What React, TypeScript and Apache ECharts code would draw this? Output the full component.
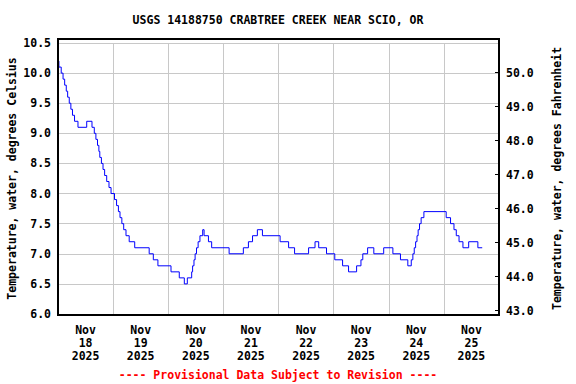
import React, { useEffect, useRef } from "react";
import * as echarts from "echarts";

const dayLabels = ["Nov\n18\n2025", "Nov\n19\n2025", "Nov\n20\n2025", "Nov\n21\n2025", "Nov\n22\n2025", "Nov\n23\n2025", "Nov\n24\n2025", "Nov\n25\n2025"];

// hours since Nov 18 2025 00:00
const hours = [
  0.0, 0.4, 1.4, 2.2, 2.9, 3.6, 4.2, 4.9, 5.6, 6.3, 7.2, 8.7, 12.5, 14.8, 15.8, 16.5, 17.2, 17.8, 18.2, 18.9,
  19.6, 20.3, 21.2, 22.2, 23.1, 24.6, 25.5, 26.3, 27.0, 27.8, 28.6, 29.6, 31.0, 33.4, 39.7, 41.5, 43.5, 49.2,
  52.8, 55.0, 56.3, 58.2, 58.6, 59.2, 59.7, 60.3, 61.0, 61.8, 63.0, 63.6, 65.5, 66.9, 74.5, 80.7, 82.9, 84.7,
  86.8, 89.0, 96.7, 100.4, 103.0, 109.1, 111.9, 113.5, 116.9, 120.5, 123.9, 126.5, 130.0, 131.9, 132.7, 134.8,
  137.5, 141.8, 145.8, 149.1, 152.3, 153.8, 154.5, 155.1, 155.7, 156.3, 156.8, 157.4, 158.1, 159.3, 169.0,
  170.9, 172.4, 173.4, 174.6, 176.3, 178.8, 182.8, 184.7,
];
const tempC = [
  10.2, 10.1, 10.0, 9.9, 9.8, 9.7, 9.6, 9.5, 9.4, 9.3, 9.2, 9.1, 9.2, 9.1, 9.0, 8.9, 8.8, 8.7, 8.6, 8.5,
  8.4, 8.3, 8.2, 8.1, 8.0, 7.9, 7.8, 7.7, 7.6, 7.5, 7.4, 7.3, 7.2, 7.1, 7.0, 6.9, 6.8, 6.7,
  6.6, 6.5, 6.6, 6.7, 6.8, 6.9, 7.0, 7.1, 7.2, 7.3, 7.4, 7.3, 7.2, 7.1, 7.0, 7.1, 7.2, 7.3,
  7.4, 7.3, 7.2, 7.1, 7.0, 7.1, 7.2, 7.1, 7.0, 6.9, 6.8, 6.7, 6.8, 6.9, 7.0, 7.1,
  7.0, 7.1, 7.0, 6.9, 6.8, 6.9, 7.0, 7.1, 7.2, 7.3, 7.4, 7.5, 7.6, 7.7, 7.6,
  7.5, 7.4, 7.3, 7.2, 7.1, 7.2, 7.1, 7.1,
];
const fahrenheitTicks = [43, 44, 45, 46, 47, 48, 49, 50];

const FONT = "'DejaVu Sans Mono', monospace";

export default function App() {
  const ref = useRef<HTMLDivElement>(null);
  useEffect(() => {
    if (!ref.current) return;
    const chart = echarts.init(ref.current, undefined, { renderer: "svg" });
    const txt = { fontFamily: FONT, fontWeight: "bold" as const, fontSize: 11.5, color: "#000" };
    chart.setOption({
      animation: false,
      backgroundColor: "#fff",
      grid: { left: 58, right: 77, top: 43, bottom: 70, containLabel: false, outerBoundsMode: "none" },
      xAxis: [
        { type: "value", min: 0, max: 192, show: false },
        {
          type: "category",
          data: dayLabels,
          boundaryGap: true,
          position: "bottom",
          axisLine: { show: false },
          axisTick: { show: false },
          splitLine: { show: true, interval: 0, lineStyle: { color: "#c8c8c8", width: 1 } },
          axisLabel: { ...txt, interval: 0, margin: 9, lineHeight: 13 },
        },
      ],
      yAxis: [
        {
          type: "value",
          min: 6,
          max: 10.5,
          interval: 0.5,
          position: "left",
          axisLine: { show: false },
          axisTick: { show: false },
          splitLine: { show: true, lineStyle: { color: "#c8c8c8", width: 1 } },
          axisLabel: { ...txt, margin: 7, formatter: (v: number) => v.toFixed(1) },
          name: "Temperature, water, degrees Celsius",
          nameLocation: "middle",
          nameRotate: 90,
          nameGap: 40,
          nameMoveOverlap: false,
          nameTextStyle: txt,
        },
        {
          type: "value",
          min: 42.903,
          max: 50.873,
          position: "right",
          axisLine: { show: false },
          axisTick: { show: true, inside: true, length: 4, customValues: fahrenheitTicks, lineStyle: { color: "#000" } },
          splitLine: { show: false },
          axisLabel: { ...txt, margin: 7, customValues: fahrenheitTicks, formatter: (v: number) => v.toFixed(1) },
          name: "Temperature, water, degrees Fahrenheit",
          nameLocation: "middle",
          nameRotate: 90,
          nameGap: 52,
          nameTextStyle: txt,
        },
      ],
      series: [
        {
          type: "line",
          xAxisIndex: 0,
          yAxisIndex: 0,
          step: "end",
          symbol: "none",
          lineStyle: { color: "#0000ff", width: 1 },
          data: hours.map((h, i) => [h, tempC[i]]),
        },
      ],
      graphic: [
        {
          type: "rect",
          shape: { x: 58, y: 39, width: 441, height: 276 },
          style: { stroke: "#000", fill: "none", lineWidth: 2 },
          z: 100,
        },
        {
          type: "text",
          x: 278,
          y: 20,
          style: {
            text: "USGS 14188750 CRABTREE CREEK NEAR SCIO, OR",
            textAlign: "center",
            textVerticalAlign: "middle",
            font: `bold 11.5px ${FONT}`,
            fill: "#000",
          },
        },
        {
          type: "text",
          x: 278,
          y: 375,
          style: {
            text: "---- Provisional Data Subject to Revision ----",
            textAlign: "center",
            textVerticalAlign: "middle",
            font: `bold 11.5px ${FONT}`,
            fill: "#ff0000",
          },
        },
      ],
    });
    return () => chart.dispose();
  }, []);
  return <div ref={ref} style={{ position: "fixed", left: 0, top: 0, width: 576, height: 384 }} />;
}
